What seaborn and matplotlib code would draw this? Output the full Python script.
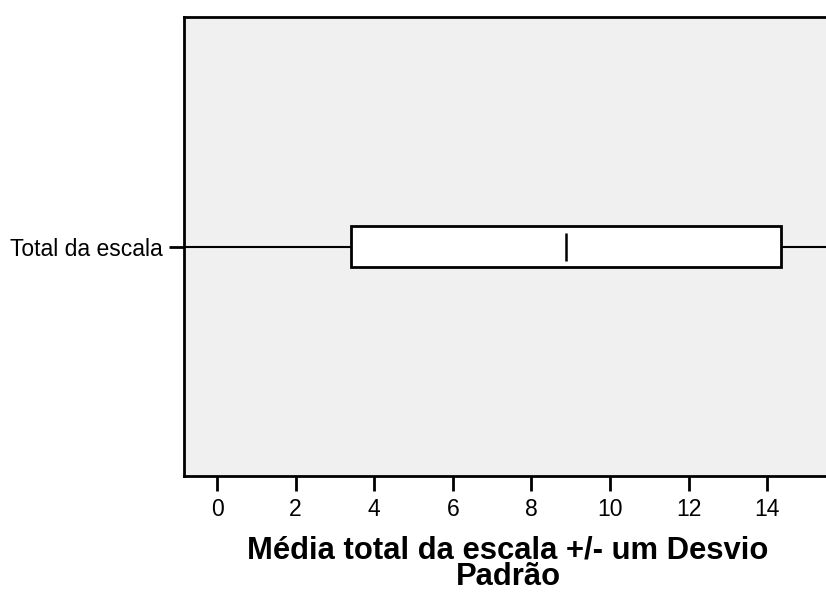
import numpy as np
import pandas as pd
import seaborn as sns
import matplotlib.pyplot as plt

# valores
categorias = ["Total da escala"]
medias = [8.875]
desvios = [5.475]

df = pd.DataFrame({"categoria": categorias, "media": medias, "dp": desvios})
df["inf"] = df["media"] - df["dp"]
df["sup"] = df["media"] + df["dp"]

sns.set_style("ticks", {"axes.facecolor": "#f0f0f0", "axes.edgecolor": "black",
                        "text.color": "black", "xtick.color": "black",
                        "ytick.color": "black", "axes.labelcolor": "black"})
plt.rcParams["font.family"] = ["Liberation Sans", "DejaVu Sans"]

fig = plt.figure(figsize=(8.26, 5.92), dpi=100)
ax = fig.add_axes([184 / 826, 1 - 476 / 592, (832 - 184) / 826, 459 / 592])

# linha de referência na categoria
for i in range(len(df)):
    ax.axhline(i, color="black", lw=1.5, zorder=1)

# caixa média +/- 1 DP
ax.barh(df.index, df["sup"] - df["inf"], left=df["inf"], height=0.09,
        color="white", edgecolor="black", linewidth=2, zorder=2)

# marca da média
sns.scatterplot(x=df["media"], y=df.index, marker="|", s=400, color="black",
                linewidth=1.8, ax=ax, zorder=3)

ax.set_ylim(0.5, -0.5)
ax.set_yticks(df.index)
ax.set_yticklabels(df["categoria"], fontsize=16.5)
ax.set_xlim(-0.84, 15.65)
ax.set_xticks(np.arange(0, 15, 2))
ax.tick_params(axis="x", labelsize=16.5, length=11, width=2, pad=5)
ax.tick_params(axis="y", length=11, width=2, pad=4)
ax.set_ylabel("")
ax.set_xlabel("Média total da escala +/- um Desvio\nPadrão", fontsize=22.3,
              fontweight="bold", labelpad=10, linespacing=0.88)

for s in ["left", "bottom", "top"]:
    ax.spines[s].set_linewidth(2)
ax.spines["right"].set_visible(False)

fig.savefig("out.png", dpi=100)
